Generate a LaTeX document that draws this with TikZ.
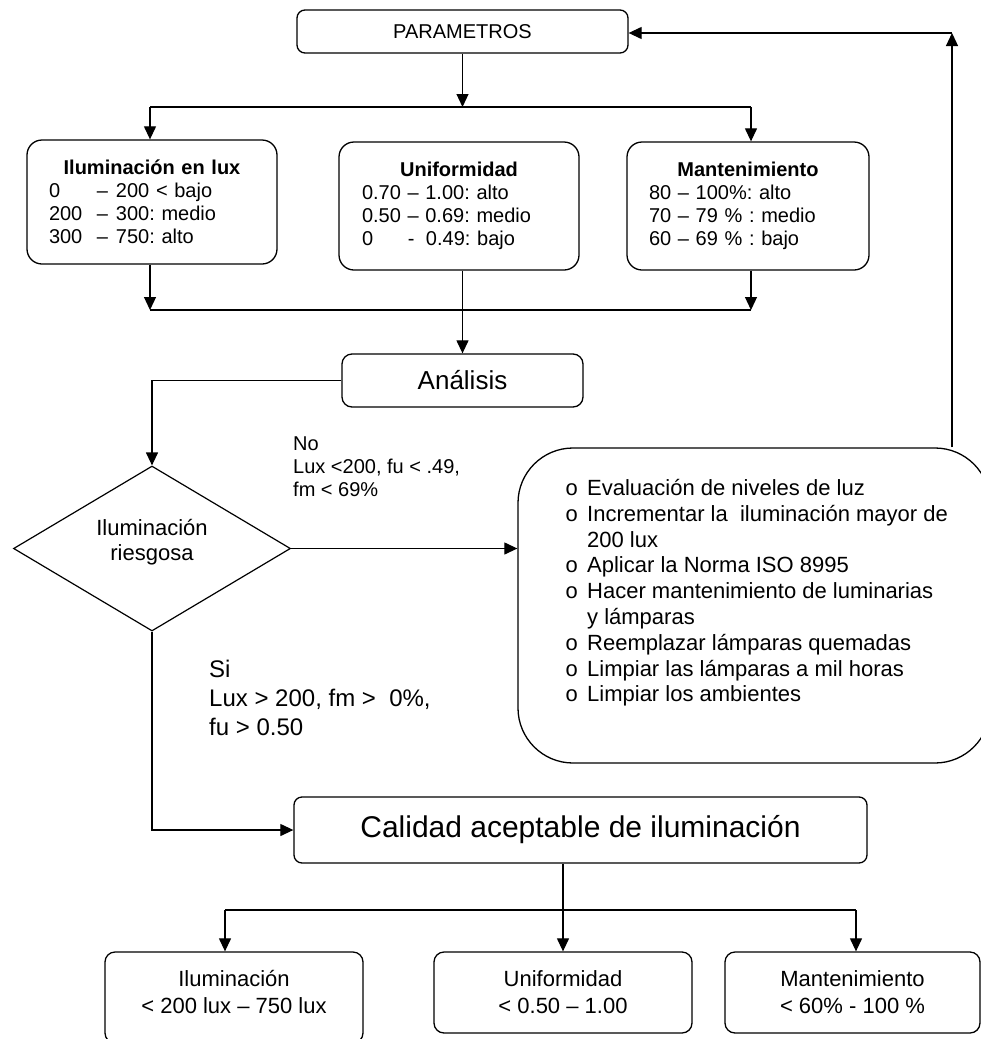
\documentclass[tikz,border=0pt]{standalone}
\usepackage{fontspec}
\setmainfont{Liberation Sans}
\newfontfamily\bulfont{Liberation Mono}
\usetikzlibrary{arrows.meta,shapes.geometric}
\newcommand{\fsz}[2]{\fontsize{#1}{#2}\selectfont}
\newcommand{\ttl}[1]{\makebox[\linewidth]{\bfseries #1}}
\newcommand{\bul}{\makebox[22pt][l]{\bulfont o}}
\frenchspacing
\begin{document}
\begin{tikzpicture}[x=1pt,y=-1pt,
  ln/.style={line width=1.2pt},
  arr/.style={ln,-{Triangle[length=13pt,width=12pt]}},
  box/.style={draw,line width=1.3pt,inner sep=0pt,align=center},
  tbox/.style={draw,line width=1.3pt,inner sep=0pt,rounded corners=15pt,align=left,font=\fsz{20}{23}},
  lbl/.style={inner sep=0pt,anchor=north west,align=left}
]
\useasboundingbox (0,0) rectangle (981,1039);

% top
\node[box,rounded corners=8pt,minimum width=331pt,minimum height=43pt,font=\fsz{20}{23}] (param) at (462.5,31.5) {PARAMETROS};

\node[tbox,minimum width=250pt,minimum height=124pt,text width=206pt] (bl) at (152,202)
 {\ttl{Iluminación en lux}\\
  \makebox[48pt][l]{0}\makebox[19pt][l]{–}200 < bajo\\
  \makebox[48pt][l]{200}\makebox[19pt][l]{–}300: medio\\
  \makebox[48pt][l]{300}\makebox[19pt][l]{–}750: alto};
\node[tbox,minimum width=240pt,minimum height=128pt,text width=194pt] (bm) at (459,206)
 {\ttl{Uniformidad}\\
  0.70 – 1.00: alto\\
  0.50 – 0.69: medio\\
  \makebox[46pt][l]{0}\makebox[18pt][l]{-}0.49: bajo};
\node[tbox,minimum width=242pt,minimum height=128pt,text width=198pt] (br) at (748,206)
 {\ttl{Mantenimiento}\\
  80 – 100\%: alto\\
  70 – 79 \% : medio\\
  60 – 69 \% : bajo};

\coordinate (t0) at (462.5,107);
\coordinate (tl) at (150,107);
\coordinate (tr) at (751,107);
\draw[arr] (param.south) -- (t0);
\draw[ln] (tl) -- (tr);
\draw[arr] (tl) -- (tl |- bl.north);
\draw[arr] (tr) -- (tr |- br.north);

\node[box,rounded corners=10pt,minimum width=241pt,minimum height=53pt,font=\fsz{26}{30}] (ana) at (462.5,380.5) {Análisis};

\coordinate (m1) at (150,310);
\coordinate (m3) at (751,310);
\draw[arr] (bl.south -| m1) -- (m1);
\draw[ln] (m1) -- (m3);
\draw[arr] (br.south -| m3) -- (m3);
\draw[arr] (ana.north |- bm.south) -- (ana.north);

% decision
\node[diamond,draw,line width=1.2pt,inner sep=0pt,aspect=1.68,minimum width=277pt,minimum height=165pt,align=center,font=\fsz{22}{25}] (dia) at (152,548.5) {Iluminación\\riesgosa\\[-8pt]\mbox{}};
\draw[arr] (ana.west) -| (dia.north);

\node[lbl,font=\fsz{20}{23}] (no) at (293,437) {No\\Lux <200, fu < .49,\\fm < 69\%};

% actions
\node[box,rounded corners=55pt,minimum width=472pt,minimum height=315pt] (act) at (754,605.5) {};
\node[lbl,font=\fsz{22}{25.8}] (acl) at (565,479)
 {\bul Evaluación de niveles de luz\\
  \bul Incrementar la\ \ iluminación mayor de\\
  \hspace*{22pt}200 lux\\
  \bul Aplicar la Norma ISO 8995\\
  \bul Hacer mantenimiento de luminarias\\
  \hspace*{22pt}y lámparas\\
  \bul Reemplazar lámparas quemadas\\
  \bul Limpiar las lámparas a mil horas\\
  \bul Limpiar los ambientes};
\draw[arr] (dia.east) -- (dia.east -| act.west);

\coordinate (fb) at (952,33);
\draw[arr] (act.north -| fb) -- (fb);
\draw[arr] (fb) -- (fb -| param.east);

\node[lbl,font=\fsz{24}{29}] (si) at (209,660) {Si\\Lux > 200, fm >\ \ 0\%,\\fu > 0.50};

% result
\node[box,rounded corners=8pt,minimum width=573pt,minimum height=66pt,font=\fsz{30}{34}] (cal) at (580.5,830) {Calidad aceptable de iluminación};
\draw[arr] (dia.south) |- (cal.west);

\node[box,rounded corners=10pt,minimum width=258pt,minimum height=91pt,font=\fsz{22}{27}] (bb1) at (234,997.5) {Iluminación\\< 200 lux – 750 lux\\[-15pt]\mbox{}};
\node[box,rounded corners=10pt,minimum width=258pt,minimum height=81pt,font=\fsz{22}{27}] (bb2) at (563,992.5) {Uniformidad\\< 0.50 – 1.00};
\node[box,rounded corners=10pt,minimum width=255pt,minimum height=81pt,font=\fsz{22}{27}] (bb3) at (852.5,992.5) {Mantenimiento\\< 60\% - 100 \%};

\coordinate (bl0) at (225,910);
\coordinate (br0) at (856,910);
\draw[arr] (bb2.north |- cal.south) -- (bb2.north);
\draw[ln] (bl0) -- (br0);
\draw[arr] (bl0) -- (bl0 |- bb1.north);
\draw[arr] (br0) -- (br0 |- bb3.north);
\end{tikzpicture}
\end{document}
